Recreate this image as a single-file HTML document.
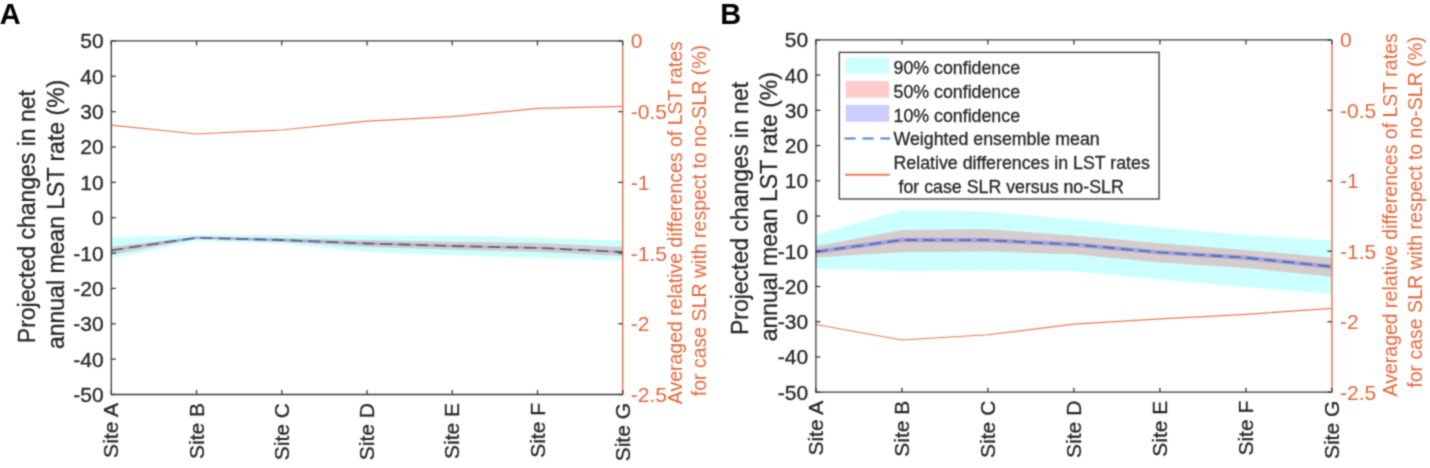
<!DOCTYPE html>
<html><head><meta charset="utf-8"><style>
html,body{margin:0;padding:0;background:#fff;width:1430px;height:468px;overflow:hidden}
svg{display:block}
text{stroke-width:0.3px;paint-order:stroke}
.d{stroke:#262626}
.o{stroke:none}
</style></head><body>
<svg width="1430" height="468" viewBox="0 0 1430 468" font-family='"Liberation Sans", sans-serif'>
<defs><filter id="bl" x="0" y="0" width="1430" height="468" filterUnits="userSpaceOnUse" color-interpolation-filters="sRGB"><feConvolveMatrix order="3" kernelMatrix="1 3 1 3 9 3 1 3 1" divisor="25" edgeMode="duplicate"/></filter></defs>
<rect width="1430" height="468" fill="#fff"/>
<g filter="url(#bl)">
<rect width="1430" height="468" fill="#fff"/>
<polygon points="111.30,237.50 196.53,234.80 281.77,234.70 367.00,235.30 452.23,235.70 537.47,237.80 622.70,240.60 622.70,260.00 537.47,257.90 452.23,255.30 367.00,252.00 281.77,243.70 196.53,241.00 111.30,258.80" fill="#00FFFF" fill-opacity="0.2" stroke="none"/>
<polygon points="111.30,246.80 196.53,236.50 281.77,238.00 367.00,240.00 452.23,241.70 537.47,243.00 622.70,247.00 622.70,256.00 537.47,252.00 452.23,249.80 367.00,247.00 281.77,242.00 196.53,239.00 111.30,255.00" fill="#FF0000" fill-opacity="0.2" stroke="none"/>
<polygon points="111.30,249.40 196.53,236.80 281.77,239.10 367.00,242.60 452.23,245.10 537.47,247.00 622.70,251.10 622.70,252.90 537.47,248.80 452.23,246.90 367.00,244.40 281.77,240.90 196.53,238.60 111.30,251.20" fill="#0000FF" fill-opacity="0.2" stroke="none"/>
<polyline points="111.30,250.30 196.53,237.70 281.77,240.00 367.00,243.50 452.23,246.00 537.47,247.90 622.70,252.00" fill="none" stroke="#4a6a88" stroke-width="1.8" stroke-linejoin="round" stroke-dasharray="12 6"/>
<polyline points="111.30,125.20 196.53,134.00 281.77,130.00 367.00,121.20 452.23,116.70 537.47,108.40 622.70,106.30" fill="none" stroke="#EB7A5A" stroke-width="1.25" stroke-linejoin="round" />
<line x1="111.3" y1="40.9" x2="622.7" y2="40.9" stroke="#3a3a3a" stroke-width="1.3"/>
<line x1="111.3" y1="394.5" x2="622.7" y2="394.5" stroke="#3a3a3a" stroke-width="1.3"/>
<line x1="111.3" y1="40.25" x2="111.3" y2="395.15" stroke="#3a3a3a" stroke-width="1.3"/>
<line x1="622.7" y1="41.55" x2="622.7" y2="395.15" stroke="#E8764E" stroke-width="1.5"/>
<line x1="111.3" y1="40.90" x2="115.8" y2="40.90" stroke="#3a3a3a" stroke-width="1.3"/>
<line x1="111.3" y1="76.26" x2="115.8" y2="76.26" stroke="#3a3a3a" stroke-width="1.3"/>
<line x1="111.3" y1="111.62" x2="115.8" y2="111.62" stroke="#3a3a3a" stroke-width="1.3"/>
<line x1="111.3" y1="146.98" x2="115.8" y2="146.98" stroke="#3a3a3a" stroke-width="1.3"/>
<line x1="111.3" y1="182.34" x2="115.8" y2="182.34" stroke="#3a3a3a" stroke-width="1.3"/>
<line x1="111.3" y1="217.70" x2="115.8" y2="217.70" stroke="#3a3a3a" stroke-width="1.3"/>
<line x1="111.3" y1="253.06" x2="115.8" y2="253.06" stroke="#3a3a3a" stroke-width="1.3"/>
<line x1="111.3" y1="288.42" x2="115.8" y2="288.42" stroke="#3a3a3a" stroke-width="1.3"/>
<line x1="111.3" y1="323.78" x2="115.8" y2="323.78" stroke="#3a3a3a" stroke-width="1.3"/>
<line x1="111.3" y1="359.14" x2="115.8" y2="359.14" stroke="#3a3a3a" stroke-width="1.3"/>
<line x1="111.3" y1="394.50" x2="115.8" y2="394.50" stroke="#3a3a3a" stroke-width="1.3"/>
<line x1="622.7" y1="40.90" x2="618.2" y2="40.90" stroke="#3a3a3a" stroke-width="1.3"/>
<line x1="622.7" y1="111.62" x2="618.2" y2="111.62" stroke="#3a3a3a" stroke-width="1.3"/>
<line x1="622.7" y1="182.34" x2="618.2" y2="182.34" stroke="#3a3a3a" stroke-width="1.3"/>
<line x1="622.7" y1="253.06" x2="618.2" y2="253.06" stroke="#3a3a3a" stroke-width="1.3"/>
<line x1="622.7" y1="323.78" x2="618.2" y2="323.78" stroke="#3a3a3a" stroke-width="1.3"/>
<line x1="622.7" y1="394.50" x2="618.2" y2="394.50" stroke="#3a3a3a" stroke-width="1.3"/>
<line x1="111.30" y1="394.5" x2="111.30" y2="390.0" stroke="#3a3a3a" stroke-width="1.3"/>
<line x1="111.30" y1="40.9" x2="111.30" y2="45.4" stroke="#3a3a3a" stroke-width="1.3"/>
<line x1="196.53" y1="394.5" x2="196.53" y2="390.0" stroke="#3a3a3a" stroke-width="1.3"/>
<line x1="196.53" y1="40.9" x2="196.53" y2="45.4" stroke="#3a3a3a" stroke-width="1.3"/>
<line x1="281.77" y1="394.5" x2="281.77" y2="390.0" stroke="#3a3a3a" stroke-width="1.3"/>
<line x1="281.77" y1="40.9" x2="281.77" y2="45.4" stroke="#3a3a3a" stroke-width="1.3"/>
<line x1="367.00" y1="394.5" x2="367.00" y2="390.0" stroke="#3a3a3a" stroke-width="1.3"/>
<line x1="367.00" y1="40.9" x2="367.00" y2="45.4" stroke="#3a3a3a" stroke-width="1.3"/>
<line x1="452.23" y1="394.5" x2="452.23" y2="390.0" stroke="#3a3a3a" stroke-width="1.3"/>
<line x1="452.23" y1="40.9" x2="452.23" y2="45.4" stroke="#3a3a3a" stroke-width="1.3"/>
<line x1="537.47" y1="394.5" x2="537.47" y2="390.0" stroke="#3a3a3a" stroke-width="1.3"/>
<line x1="537.47" y1="40.9" x2="537.47" y2="45.4" stroke="#3a3a3a" stroke-width="1.3"/>
<line x1="622.70" y1="394.5" x2="622.70" y2="390.0" stroke="#3a3a3a" stroke-width="1.3"/>
<line x1="622.70" y1="40.9" x2="622.70" y2="45.4" stroke="#3a3a3a" stroke-width="1.3"/>
<text x="103.60" y="48.35" text-anchor="end" font-size="21" fill="#262626" class="d">50</text>
<text x="103.60" y="83.71" text-anchor="end" font-size="21" fill="#262626" class="d">40</text>
<text x="103.60" y="119.07" text-anchor="end" font-size="21" fill="#262626" class="d">30</text>
<text x="103.60" y="154.43" text-anchor="end" font-size="21" fill="#262626" class="d">20</text>
<text x="103.60" y="189.79" text-anchor="end" font-size="21" fill="#262626" class="d">10</text>
<text x="103.60" y="225.15" text-anchor="end" font-size="21" fill="#262626" class="d">0</text>
<text x="103.60" y="260.51" text-anchor="end" font-size="21" fill="#262626" class="d">-10</text>
<text x="103.60" y="295.87" text-anchor="end" font-size="21" fill="#262626" class="d">-20</text>
<text x="103.60" y="331.23" text-anchor="end" font-size="21" fill="#262626" class="d">-30</text>
<text x="103.60" y="366.59" text-anchor="end" font-size="21" fill="#262626" class="d">-40</text>
<text x="103.60" y="401.95" text-anchor="end" font-size="21" fill="#262626" class="d">-50</text>
<text x="630.80" y="48.35" font-size="21" fill="#E2683C" class="o">0</text>
<text x="630.80" y="119.07" font-size="21" fill="#E2683C" class="o">-0.5</text>
<text x="630.80" y="189.79" font-size="21" fill="#E2683C" class="o">-1</text>
<text x="630.80" y="260.51" font-size="21" fill="#E2683C" class="o">-1.5</text>
<text x="630.80" y="331.23" font-size="21" fill="#E2683C" class="o">-2</text>
<text x="630.80" y="401.95" font-size="21" fill="#E2683C" class="o">-2.5</text>
<text transform="translate(118.40,403.00) rotate(-90)" text-anchor="end" font-size="21" fill="#262626" class="d">Site A</text>
<text transform="translate(203.63,403.00) rotate(-90)" text-anchor="end" font-size="21" fill="#262626" class="d">Site B</text>
<text transform="translate(288.87,403.00) rotate(-90)" text-anchor="end" font-size="21" fill="#262626" class="d">Site C</text>
<text transform="translate(374.10,403.00) rotate(-90)" text-anchor="end" font-size="21" fill="#262626" class="d">Site D</text>
<text transform="translate(459.33,403.00) rotate(-90)" text-anchor="end" font-size="21" fill="#262626" class="d">Site E</text>
<text transform="translate(544.57,403.00) rotate(-90)" text-anchor="end" font-size="21" fill="#262626" class="d">Site F</text>
<text transform="translate(629.80,403.00) rotate(-90)" text-anchor="end" font-size="21" fill="#262626" class="d">Site G</text>
<text transform="translate(35.0,216.6) rotate(-90)" text-anchor="middle" font-size="23" fill="#262626" class="d">Projected changes in net</text>
<text transform="translate(64.0,214.4) rotate(-90)" text-anchor="middle" font-size="23" fill="#262626" class="d">annual mean LST rate (%)</text>
<text transform="translate(681.6,222.7) rotate(-90)" text-anchor="middle" font-size="19.5" fill="#E2683C" class="o">Averaged relative differences of LST rates</text>
<text transform="translate(706.3,220.6) rotate(-90)" text-anchor="middle" font-size="19.5" fill="#E2683C" class="o">for case SLR with respect to no-SLR (%)</text>
<polygon points="815.90,235.00 901.90,210.00 987.90,211.50 1073.90,219.50 1159.90,227.50 1245.90,235.00 1331.90,240.50 1331.90,293.80 1245.90,287.30 1159.90,279.50 1073.90,271.00 987.90,270.50 901.90,271.00 815.90,268.50" fill="#00FFFF" fill-opacity="0.2" stroke="none"/>
<polygon points="815.90,246.20 901.90,230.00 987.90,229.30 1073.90,235.50 1159.90,243.30 1245.90,250.00 1331.90,257.40 1331.90,276.70 1245.90,268.00 1159.90,262.60 1073.90,254.20 987.90,251.50 901.90,252.30 815.90,257.40" fill="#FF0000" fill-opacity="0.2" stroke="none"/>
<polygon points="815.90,249.60 901.90,237.80 987.90,238.00 1073.90,242.30 1159.90,250.20 1245.90,255.50 1331.90,264.50 1331.90,268.90 1245.90,259.90 1159.90,254.60 1073.90,246.70 987.90,242.40 901.90,242.20 815.90,254.00" fill="#0000FF" fill-opacity="0.2" stroke="none"/>
<polyline points="815.90,251.80 901.90,240.00 987.90,240.20 1073.90,244.50 1159.90,252.40 1245.90,257.70 1331.90,266.70" fill="none" stroke="#4a70c4" stroke-width="1.8" stroke-linejoin="round" stroke-dasharray="12 6"/>
<polyline points="815.90,324.50 901.90,340.00 987.90,334.75 1073.90,324.20 1159.90,318.90 1245.90,314.30 1331.90,308.40" fill="none" stroke="#EB7A5A" stroke-width="1.25" stroke-linejoin="round" />
<line x1="815.9" y1="39.9" x2="1331.9" y2="39.9" stroke="#3a3a3a" stroke-width="1.3"/>
<line x1="815.9" y1="392.2" x2="1331.9" y2="392.2" stroke="#3a3a3a" stroke-width="1.3"/>
<line x1="815.9" y1="39.25" x2="815.9" y2="392.84999999999997" stroke="#3a3a3a" stroke-width="1.3"/>
<line x1="1331.9" y1="40.55" x2="1331.9" y2="392.84999999999997" stroke="#E8764E" stroke-width="1.5"/>
<line x1="815.9" y1="39.90" x2="820.4" y2="39.90" stroke="#3a3a3a" stroke-width="1.3"/>
<line x1="815.9" y1="75.13" x2="820.4" y2="75.13" stroke="#3a3a3a" stroke-width="1.3"/>
<line x1="815.9" y1="110.36" x2="820.4" y2="110.36" stroke="#3a3a3a" stroke-width="1.3"/>
<line x1="815.9" y1="145.59" x2="820.4" y2="145.59" stroke="#3a3a3a" stroke-width="1.3"/>
<line x1="815.9" y1="180.82" x2="820.4" y2="180.82" stroke="#3a3a3a" stroke-width="1.3"/>
<line x1="815.9" y1="216.05" x2="820.4" y2="216.05" stroke="#3a3a3a" stroke-width="1.3"/>
<line x1="815.9" y1="251.28" x2="820.4" y2="251.28" stroke="#3a3a3a" stroke-width="1.3"/>
<line x1="815.9" y1="286.51" x2="820.4" y2="286.51" stroke="#3a3a3a" stroke-width="1.3"/>
<line x1="815.9" y1="321.74" x2="820.4" y2="321.74" stroke="#3a3a3a" stroke-width="1.3"/>
<line x1="815.9" y1="356.97" x2="820.4" y2="356.97" stroke="#3a3a3a" stroke-width="1.3"/>
<line x1="815.9" y1="392.20" x2="820.4" y2="392.20" stroke="#3a3a3a" stroke-width="1.3"/>
<line x1="1331.9" y1="39.90" x2="1327.4" y2="39.90" stroke="#3a3a3a" stroke-width="1.3"/>
<line x1="1331.9" y1="110.36" x2="1327.4" y2="110.36" stroke="#3a3a3a" stroke-width="1.3"/>
<line x1="1331.9" y1="180.82" x2="1327.4" y2="180.82" stroke="#3a3a3a" stroke-width="1.3"/>
<line x1="1331.9" y1="251.28" x2="1327.4" y2="251.28" stroke="#3a3a3a" stroke-width="1.3"/>
<line x1="1331.9" y1="321.74" x2="1327.4" y2="321.74" stroke="#3a3a3a" stroke-width="1.3"/>
<line x1="1331.9" y1="392.20" x2="1327.4" y2="392.20" stroke="#3a3a3a" stroke-width="1.3"/>
<line x1="815.90" y1="392.2" x2="815.90" y2="387.7" stroke="#3a3a3a" stroke-width="1.3"/>
<line x1="815.90" y1="39.9" x2="815.90" y2="44.4" stroke="#3a3a3a" stroke-width="1.3"/>
<line x1="901.90" y1="392.2" x2="901.90" y2="387.7" stroke="#3a3a3a" stroke-width="1.3"/>
<line x1="901.90" y1="39.9" x2="901.90" y2="44.4" stroke="#3a3a3a" stroke-width="1.3"/>
<line x1="987.90" y1="392.2" x2="987.90" y2="387.7" stroke="#3a3a3a" stroke-width="1.3"/>
<line x1="987.90" y1="39.9" x2="987.90" y2="44.4" stroke="#3a3a3a" stroke-width="1.3"/>
<line x1="1073.90" y1="392.2" x2="1073.90" y2="387.7" stroke="#3a3a3a" stroke-width="1.3"/>
<line x1="1073.90" y1="39.9" x2="1073.90" y2="44.4" stroke="#3a3a3a" stroke-width="1.3"/>
<line x1="1159.90" y1="392.2" x2="1159.90" y2="387.7" stroke="#3a3a3a" stroke-width="1.3"/>
<line x1="1159.90" y1="39.9" x2="1159.90" y2="44.4" stroke="#3a3a3a" stroke-width="1.3"/>
<line x1="1245.90" y1="392.2" x2="1245.90" y2="387.7" stroke="#3a3a3a" stroke-width="1.3"/>
<line x1="1245.90" y1="39.9" x2="1245.90" y2="44.4" stroke="#3a3a3a" stroke-width="1.3"/>
<line x1="1331.90" y1="392.2" x2="1331.90" y2="387.7" stroke="#3a3a3a" stroke-width="1.3"/>
<line x1="1331.90" y1="39.9" x2="1331.90" y2="44.4" stroke="#3a3a3a" stroke-width="1.3"/>
<text x="808.20" y="47.35" text-anchor="end" font-size="21" fill="#262626" class="d">50</text>
<text x="808.20" y="82.58" text-anchor="end" font-size="21" fill="#262626" class="d">40</text>
<text x="808.20" y="117.81" text-anchor="end" font-size="21" fill="#262626" class="d">30</text>
<text x="808.20" y="153.04" text-anchor="end" font-size="21" fill="#262626" class="d">20</text>
<text x="808.20" y="188.27" text-anchor="end" font-size="21" fill="#262626" class="d">10</text>
<text x="808.20" y="223.50" text-anchor="end" font-size="21" fill="#262626" class="d">0</text>
<text x="808.20" y="258.73" text-anchor="end" font-size="21" fill="#262626" class="d">-10</text>
<text x="808.20" y="293.96" text-anchor="end" font-size="21" fill="#262626" class="d">-20</text>
<text x="808.20" y="329.19" text-anchor="end" font-size="21" fill="#262626" class="d">-30</text>
<text x="808.20" y="364.42" text-anchor="end" font-size="21" fill="#262626" class="d">-40</text>
<text x="808.20" y="399.65" text-anchor="end" font-size="21" fill="#262626" class="d">-50</text>
<text x="1340.00" y="47.35" font-size="21" fill="#E2683C" class="o">0</text>
<text x="1340.00" y="117.81" font-size="21" fill="#E2683C" class="o">-0.5</text>
<text x="1340.00" y="188.27" font-size="21" fill="#E2683C" class="o">-1</text>
<text x="1340.00" y="258.73" font-size="21" fill="#E2683C" class="o">-1.5</text>
<text x="1340.00" y="329.19" font-size="21" fill="#E2683C" class="o">-2</text>
<text x="1340.00" y="399.65" font-size="21" fill="#E2683C" class="o">-2.5</text>
<text transform="translate(823.00,400.70) rotate(-90)" text-anchor="end" font-size="21" fill="#262626" class="d">Site A</text>
<text transform="translate(909.00,400.70) rotate(-90)" text-anchor="end" font-size="21" fill="#262626" class="d">Site B</text>
<text transform="translate(995.00,400.70) rotate(-90)" text-anchor="end" font-size="21" fill="#262626" class="d">Site C</text>
<text transform="translate(1081.00,400.70) rotate(-90)" text-anchor="end" font-size="21" fill="#262626" class="d">Site D</text>
<text transform="translate(1167.00,400.70) rotate(-90)" text-anchor="end" font-size="21" fill="#262626" class="d">Site E</text>
<text transform="translate(1253.00,400.70) rotate(-90)" text-anchor="end" font-size="21" fill="#262626" class="d">Site F</text>
<text transform="translate(1339.00,400.70) rotate(-90)" text-anchor="end" font-size="21" fill="#262626" class="d">Site G</text>
<text transform="translate(747.8,208.5) rotate(-90)" text-anchor="middle" font-size="23" fill="#262626" class="d">Projected changes in net</text>
<text transform="translate(777.2,206.7) rotate(-90)" text-anchor="middle" font-size="23" fill="#262626" class="d">annual mean LST rate (%)</text>
<text transform="translate(1397.4,214.9) rotate(-90)" text-anchor="middle" font-size="19.5" fill="#E2683C" class="o">Averaged relative differences of LST rates</text>
<text transform="translate(1422.1,212.1) rotate(-90)" text-anchor="middle" font-size="19.5" fill="#E2683C" class="o">for case SLR with respect to no-SLR (%)</text>
<rect x="839.3" y="52.4" width="319.80" height="146.60" fill="#fff" stroke="#3a3a3a" stroke-width="1.3"/>
<rect x="845.7" y="57.7" width="43.5" height="16.2" fill="#CCFFFF"/>
<rect x="845.7" y="81.1" width="43.5" height="16.7" fill="#FFCCCC"/>
<rect x="845.7" y="105.0" width="43.5" height="16.7" fill="#CCCCFF"/>
<line x1="844.5" y1="138.6" x2="890" y2="138.6" stroke="#4a8ad0" stroke-width="2" stroke-dasharray="11.2 6.7"/>
<line x1="845" y1="174.7" x2="889.7" y2="174.7" stroke="#EB7A5A" stroke-width="2"/>
<text x="893.5" y="74.30" font-size="17.8" fill="#262626" class="d" xml:space="preserve">90% confidence</text>
<text x="893.5" y="98.00" font-size="17.8" fill="#262626" class="d" xml:space="preserve">50% confidence</text>
<text x="893.5" y="121.70" font-size="17.8" fill="#262626" class="d" xml:space="preserve">10% confidence</text>
<text x="893.5" y="145.40" font-size="17.8" fill="#262626" class="d" xml:space="preserve">Weighted ensemble mean</text>
<text x="893.5" y="169.10" font-size="17.8" fill="#262626" class="d" xml:space="preserve">Relative differences in LST rates</text>
<text x="893.5" y="192.80" font-size="17.8" fill="#262626" class="d" xml:space="preserve"> for case SLR versus no-SLR</text>
<text x="-0.3" y="24.1" font-size="29" font-weight="bold" fill="#000">A</text>
<text x="720.3" y="23.6" font-size="29" font-weight="bold" fill="#000">B</text>
</g>
</svg>
</body></html>
